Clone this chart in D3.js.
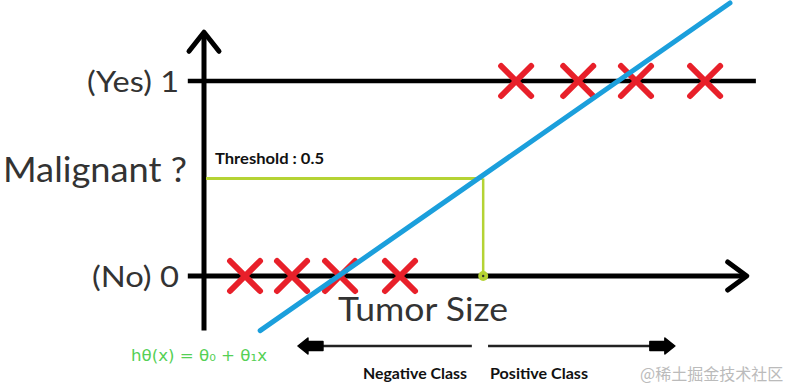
<!DOCTYPE html>
<html><head><meta charset="utf-8">
<script src="https://cdn.jsdelivr.net/npm/d3@7"></script>
<style>
html,body{margin:0;padding:0;background:#fff;}
svg{display:block;}
</style></head>
<body>
<svg id="chart" width="796" height="384"></svg>
<script>
// ---- data ----
const negativeSizes = [7.6, 16.3, 25.2, 36.3];   // label 0 (No)
const positiveSizes = [57.8, 69.3, 80.0, 92.8];  // label 1 (Yes)
const tickValues = [1, 0];
const tickLabels = ["(Yes) 1", "(No) 0"];
const thresholdValue = 0.5;
const thresholdSize = 51.7;
const hypothesisX = [10.4, 97.4];
const hypothesisY = [-0.28, 1.40];
const negClassArrow = [49.6, 17.4];
const posClassArrow = [52.6, 87.2];

const svg = d3.select("#chart");
const x = d3.scaleLinear().domain([0, 100]).range([204, 744]);
const y = d3.scaleLinear().domain([0, 1]).range([276, 81]);

const BLACK = "#000", RED = "#e8202a", BLUE = "#1b9fdc", LIME = "#b5d334";
const FONT = "Lato, 'Open Sans', sans-serif";
const tickWidths = [92, 87];

// horizontal reference lines at y=1 and y=0
svg.append("line").attr("x1", x(-3)).attr("x2", x(102.2))
  .attr("y1", y(1)).attr("y2", y(1)).attr("stroke", BLACK).attr("stroke-width", 4.5);
svg.append("line").attr("x1", x(-3)).attr("x2", x(100.5))
  .attr("y1", y(0)).attr("y2", y(0)).attr("stroke", BLACK).attr("stroke-width", 5);
// x arrow head
svg.append("path")
  .attr("d", `M${x(100.5)-19},${y(0)-14} L${x(100.5)},${y(0)} L${x(100.5)-19},${y(0)+14}`)
  .attr("fill", "none").attr("stroke", BLACK).attr("stroke-width", 5)
  .attr("stroke-linecap", "round").attr("stroke-linejoin", "round");

// y axis
svg.append("line").attr("x1", x(0)).attr("x2", x(0))
  .attr("y1", y(-0.28)).attr("y2", y(1.25)).attr("stroke", BLACK).attr("stroke-width", 5);
svg.append("path")
  .attr("d", `M${x(0)-15},${y(1.25)+19} L${x(0)},${y(1.25)} L${x(0)+15},${y(1.25)+19}`)
  .attr("fill", "none").attr("stroke", BLACK).attr("stroke-width", 5)
  .attr("stroke-linecap", "round").attr("stroke-linejoin", "round");

// y tick labels via axis
const yAxis = d3.axisLeft(y).tickValues(tickValues)
  .tickFormat((d) => tickLabels[tickValues.indexOf(d)])
  .tickSize(0).tickPadding(25);
const gy = svg.append("g").attr("transform", `translate(${x(0)},0)`).call(yAxis);
gy.select(".domain").remove();
gy.selectAll("text").attr("font-family", FONT).attr("font-size", 28)
  .attr("fill", "#333").attr("dy", "0.36em")
  .attr("textLength", (d) => tickWidths[tickValues.indexOf(d)])
  .attr("lengthAdjust", "spacingAndGlyphs");

// threshold
svg.append("line").attr("x1", x(0) + 2).attr("x2", x(thresholdSize))
  .attr("y1", y(thresholdValue)).attr("y2", y(thresholdValue))
  .attr("stroke", LIME).attr("stroke-width", 3);
svg.append("line").attr("x1", x(thresholdSize)).attr("x2", x(thresholdSize))
  .attr("y1", y(thresholdValue)).attr("y2", y(0))
  .attr("stroke", LIME).attr("stroke-width", 2.5);
svg.append("circle").attr("cx", x(thresholdSize)).attr("cy", y(0)).attr("r", 5)
  .attr("fill", LIME);
svg.append("circle").attr("cx", x(thresholdSize)).attr("cy", y(0)).attr("r", 1.2)
  .attr("fill", "#333");
svg.append("text").attr("x", x(0) + 11).attr("y", y(thresholdValue) - 15)
  .attr("font-family", FONT).attr("font-weight", "bold").attr("font-size", 15)
  .attr("textLength", 109).attr("lengthAdjust", "spacingAndGlyphs")
  .attr("fill", "#111").text("Threshold : 0.5");

// crosses
function crosses(data, val) {
  const g = svg.append("g");
  data.forEach(d => {
    const cx = x(d), cy = y(val), s = 15;
    g.append("path").attr("d", `M${cx-s},${cy-s}L${cx+s},${cy+s}M${cx+s},${cy-s}L${cx-s},${cy+s}`)
      .attr("stroke", RED).attr("stroke-width", 6).attr("stroke-linecap", "round").attr("fill", "none");
  });
}
crosses(negativeSizes, 0);
crosses(positiveSizes, 1);

// hypothesis line
svg.append("line").attr("x1", x(hypothesisX[0])).attr("y1", y(hypothesisY[0]))
  .attr("x2", x(hypothesisX[1])).attr("y2", y(hypothesisY[1]))
  .attr("stroke", BLUE).attr("stroke-width", 5).attr("stroke-linecap", "round");

// axis titles
svg.append("text").attr("x", 3).attr("y", 182).attr("font-family", FONT)
  .attr("font-size", 35).attr("fill", "#333")
  .attr("textLength", 184).attr("lengthAdjust", "spacingAndGlyphs").text("Malignant ?");
svg.append("text").attr("x", 338).attr("y", 321).attr("font-family", FONT)
  .attr("font-size", 32).attr("fill", "#333")
  .attr("textLength", 170).attr("lengthAdjust", "spacingAndGlyphs").text("Tumor Size");

// class arrows
function classArrow(a) {
  const x1 = x(a[0]), x2 = x(a[1]), yy = 346, dir = Math.sign(x2 - x1);
  svg.append("line").attr("x1", x1).attr("x2", x2 - dir * 14).attr("y1", yy).attr("y2", yy)
    .attr("stroke", "#222").attr("stroke-width", 2.5);
  svg.append("path")
    .attr("d", `M${x2},${yy} L${x2 - dir*10},${yy-8} L${x2 - dir*10},${yy-4.5} L${x2 - dir*25},${yy-4.5} L${x2 - dir*25},${yy+4.5} L${x2 - dir*10},${yy+4.5} L${x2 - dir*10},${yy+8} Z`)
    .attr("fill", "#000").attr("stroke", "#000").attr("stroke-width", 1.5).attr("stroke-linejoin", "round");
}
classArrow(negClassArrow);
classArrow(posClassArrow);
svg.append("text").attr("x", 363).attr("y", 379).attr("font-family", FONT)
  .attr("font-weight", "bold").attr("font-size", 15).attr("fill", "#111")
  .attr("textLength", 104).attr("lengthAdjust", "spacingAndGlyphs").text("Negative Class");
svg.append("text").attr("x", 490).attr("y", 379).attr("font-family", FONT)
  .attr("font-weight", "bold").attr("font-size", 15).attr("fill", "#111")
  .attr("textLength", 98).attr("lengthAdjust", "spacingAndGlyphs").text("Positive Class");

// hypothesis formula
svg.append("text").attr("x", 131).attr("y", 361)
  .attr("font-family", "'DejaVu Sans', sans-serif").attr("font-size", 15)
  .attr("fill", "#55d055").attr("textLength", 136).attr("lengthAdjust", "spacingAndGlyphs")
  .text("hθ(x) = θ₀ + θ₁x");

// watermark
svg.append("text").attr("x", 640).attr("y", 380)
  .attr("font-family", "'Noto Sans CJK SC', sans-serif").attr("font-size", 16)
  .attr("fill", "#bbb").text("@稀土掘金技术社区");
</script>
</body></html>
